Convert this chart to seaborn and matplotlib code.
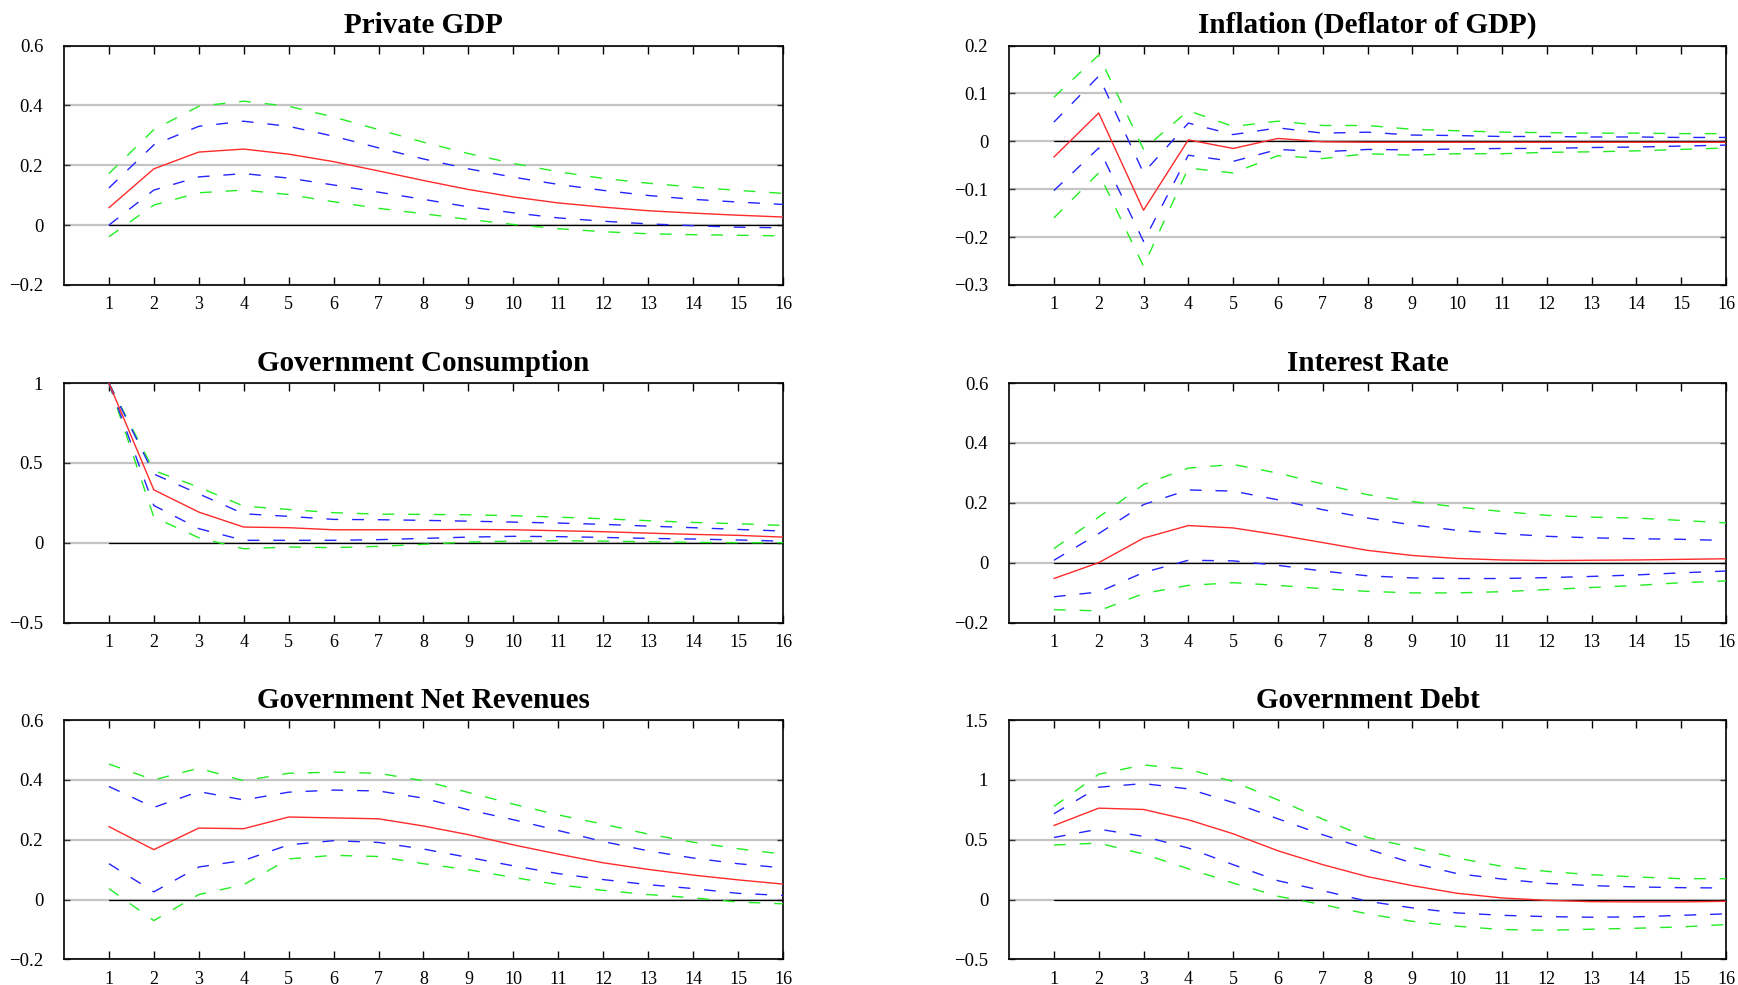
import matplotlib
matplotlib.use("Agg")
import matplotlib.pyplot as plt
from matplotlib.ticker import FuncFormatter
import numpy as np
import pandas as pd
import seaborn as sns

# Impulse responses to a government consumption shock: median (red),
# inner bands (blue) and outer bands (green) over 16 quarters.
horizons = list(range(1, 17))

gdp_median = [0.058, 0.188, 0.244, 0.254, 0.237, 0.212, 0.181, 0.149, 0.119, 0.094, 0.074, 0.060, 0.048, 0.040, 0.033, 0.027]
gdp_inner_hi = [0.124, 0.268, 0.330, 0.347, 0.330, 0.297, 0.258, 0.221, 0.188, 0.160, 0.136, 0.116, 0.099, 0.086, 0.077, 0.069]
gdp_inner_lo = [0.000, 0.117, 0.161, 0.172, 0.157, 0.134, 0.110, 0.086, 0.061, 0.041, 0.024, 0.013, 0.004, -0.002, -0.007, -0.009]
gdp_outer_hi = [0.172, 0.319, 0.397, 0.414, 0.397, 0.361, 0.319, 0.277, 0.239, 0.206, 0.178, 0.156, 0.140, 0.127, 0.116, 0.106]
gdp_outer_lo = [-0.039, 0.067, 0.108, 0.117, 0.102, 0.078, 0.056, 0.038, 0.019, 0.002, -0.012, -0.022, -0.029, -0.032, -0.034, -0.036]

infl_median = [-0.033, 0.059, -0.144, 0.003, -0.015, 0.006, -0.001, -0.002, -0.002, -0.002, -0.002, -0.002, -0.002, -0.002, -0.002, -0.002]
infl_inner_hi = [0.040, 0.136, -0.066, 0.038, 0.014, 0.028, 0.017, 0.019, 0.013, 0.012, 0.010, 0.010, 0.009, 0.009, 0.008, 0.008]
infl_inner_lo = [-0.103, -0.014, -0.209, -0.029, -0.042, -0.017, -0.022, -0.017, -0.018, -0.016, -0.015, -0.015, -0.013, -0.012, -0.010, -0.008]
infl_outer_hi = [0.092, 0.180, -0.017, 0.064, 0.031, 0.042, 0.033, 0.033, 0.025, 0.022, 0.019, 0.018, 0.017, 0.017, 0.016, 0.016]
infl_outer_lo = [-0.160, -0.066, -0.261, -0.056, -0.066, -0.030, -0.036, -0.026, -0.029, -0.026, -0.026, -0.023, -0.022, -0.020, -0.017, -0.014]

gcons_median = [1.000, 0.331, 0.192, 0.098, 0.094, 0.081, 0.081, 0.081, 0.083, 0.081, 0.075, 0.069, 0.060, 0.052, 0.046, 0.035]
gcons_inner_hi = [1.000, 0.430, 0.306, 0.181, 0.165, 0.146, 0.144, 0.140, 0.135, 0.129, 0.123, 0.115, 0.104, 0.094, 0.083, 0.073]
gcons_inner_lo = [1.000, 0.233, 0.088, 0.015, 0.015, 0.015, 0.019, 0.027, 0.035, 0.040, 0.038, 0.033, 0.027, 0.023, 0.017, 0.010]
gcons_outer_hi = [1.000, 0.452, 0.348, 0.229, 0.208, 0.188, 0.179, 0.177, 0.175, 0.169, 0.160, 0.150, 0.138, 0.127, 0.119, 0.108]
gcons_outer_lo = [1.000, 0.160, 0.031, -0.038, -0.027, -0.031, -0.023, -0.010, 0.004, 0.010, 0.013, 0.010, 0.006, 0.002, 0.000, 0.000]

rate_median = [-0.053, 0.000, 0.082, 0.124, 0.116, 0.093, 0.067, 0.041, 0.024, 0.014, 0.009, 0.007, 0.008, 0.009, 0.011, 0.013]
rate_inner_hi = [0.008, 0.097, 0.194, 0.243, 0.239, 0.210, 0.177, 0.149, 0.126, 0.108, 0.097, 0.088, 0.083, 0.080, 0.078, 0.074]
rate_inner_lo = [-0.114, -0.098, -0.033, 0.008, 0.006, -0.009, -0.028, -0.044, -0.051, -0.053, -0.053, -0.050, -0.046, -0.041, -0.034, -0.028]
rate_outer_hi = [0.047, 0.152, 0.261, 0.316, 0.328, 0.299, 0.263, 0.227, 0.204, 0.186, 0.171, 0.158, 0.152, 0.149, 0.141, 0.133]
rate_outer_lo = [-0.157, -0.161, -0.103, -0.076, -0.067, -0.076, -0.087, -0.096, -0.101, -0.101, -0.097, -0.090, -0.083, -0.076, -0.067, -0.061]

rev_median = [0.244, 0.167, 0.239, 0.237, 0.276, 0.273, 0.270, 0.246, 0.217, 0.183, 0.152, 0.123, 0.101, 0.082, 0.066, 0.052]
rev_inner_hi = [0.378, 0.308, 0.361, 0.333, 0.359, 0.366, 0.363, 0.339, 0.300, 0.267, 0.231, 0.194, 0.163, 0.139, 0.120, 0.106]
rev_inner_lo = [0.120, 0.026, 0.109, 0.131, 0.183, 0.197, 0.191, 0.169, 0.141, 0.113, 0.087, 0.067, 0.050, 0.037, 0.021, 0.014]
rev_outer_hi = [0.453, 0.400, 0.439, 0.397, 0.422, 0.426, 0.422, 0.397, 0.358, 0.319, 0.283, 0.252, 0.219, 0.192, 0.170, 0.152]
rev_outer_lo = [0.037, -0.070, 0.017, 0.050, 0.136, 0.148, 0.144, 0.120, 0.100, 0.074, 0.050, 0.031, 0.017, 0.006, -0.008, -0.014]

debt_median = [0.619, 0.764, 0.753, 0.667, 0.550, 0.408, 0.292, 0.192, 0.117, 0.053, 0.014, -0.006, -0.017, -0.019, -0.019, -0.014]
debt_inner_hi = [0.717, 0.939, 0.969, 0.925, 0.811, 0.675, 0.542, 0.422, 0.306, 0.217, 0.172, 0.136, 0.117, 0.106, 0.100, 0.097]
debt_inner_lo = [0.519, 0.589, 0.528, 0.431, 0.292, 0.158, 0.075, -0.014, -0.069, -0.111, -0.131, -0.142, -0.147, -0.144, -0.131, -0.119]
debt_outer_hi = [0.778, 1.047, 1.125, 1.089, 0.986, 0.833, 0.672, 0.519, 0.436, 0.347, 0.278, 0.236, 0.208, 0.189, 0.175, 0.175]
debt_outer_lo = [0.456, 0.472, 0.381, 0.258, 0.139, 0.028, -0.042, -0.119, -0.181, -0.222, -0.250, -0.256, -0.247, -0.239, -0.228, -0.208]

titles = ["Private GDP", "Inflation (Deflator of GDP)", "Government Consumption",
          "Interest Rate", "Government Net Revenues", "Government Debt"]
yticks = [
    [-0.2, 0, 0.2, 0.4, 0.6],
    [-0.3, -0.2, -0.1, 0, 0.1, 0.2],
    [-0.5, 0, 0.5, 1],
    [-0.2, 0, 0.2, 0.4, 0.6],
    [-0.2, 0, 0.2, 0.4, 0.6],
    [-0.5, 0, 0.5, 1, 1.5],
]

series = [
    (gdp_median, gdp_inner_hi, gdp_inner_lo, gdp_outer_hi, gdp_outer_lo),
    (infl_median, infl_inner_hi, infl_inner_lo, infl_outer_hi, infl_outer_lo),
    (gcons_median, gcons_inner_hi, gcons_inner_lo, gcons_outer_hi, gcons_outer_lo),
    (rate_median, rate_inner_hi, rate_inner_lo, rate_outer_hi, rate_outer_lo),
    (rev_median, rev_inner_hi, rev_inner_lo, rev_outer_hi, rev_outer_lo),
    (debt_median, debt_inner_hi, debt_inner_lo, debt_outer_hi, debt_outer_lo),
]

sns.set_style("white")
plt.rcParams["font.family"] = ["Liberation Serif", "DejaVu Serif"]
plt.rcParams["axes.unicode_minus"] = True
plt.rcParams["text.color"] = "black"
plt.rcParams["axes.labelcolor"] = "black"
plt.rcParams["xtick.color"] = "black"
plt.rcParams["ytick.color"] = "black"

RED = "#ff2a2a"
BLUE = "#2424ff"
GREEN = "#22ee22"
DASH = (0, (8.5, 10))

fig = plt.figure(figsize=(17.38, 9.85), dpi=100)

col_left = [0.0368, 0.5806]
col_width = [0.4137, 0.4125]
row_bottom = [0.7107, 0.3680, 0.0259]
row_height = 0.2431


def fmt(v, _pos):
    s = "%g" % v
    return s.replace("-", "\u2212")


for i, (title, ticks, data) in enumerate(zip(titles, yticks, series)):
    r, c = divmod(i, 2)
    ax = fig.add_axes([col_left[c], row_bottom[r], col_width[c], row_height])
    median, inner_hi, inner_lo, outer_hi, outer_lo = data

    df = pd.DataFrame({
        "h": horizons,
        "median": median,
        "inner_hi": inner_hi,
        "inner_lo": inner_lo,
        "outer_hi": outer_hi,
        "outer_lo": outer_lo,
    })

    # horizontal reference at zero across the response horizon
    ax.plot([horizons[0], horizons[-1]], [0, 0], color="black", lw=0.9, zorder=2)

    for col, colour in [("outer_hi", GREEN), ("outer_lo", GREEN),
                        ("inner_hi", BLUE), ("inner_lo", BLUE)]:
        sns.lineplot(data=df, x="h", y=col, ax=ax, color=colour, lw=1.0,
                     linestyle=DASH, zorder=3)
    sns.lineplot(data=df, x="h", y="median", ax=ax, color=RED, lw=1.0, zorder=4)

    ax.set_xlim(0, 16)
    ax.set_ylim(ticks[0], ticks[-1])
    ax.set_xticks(horizons)
    ax.set_yticks(ticks)
    ax.yaxis.set_major_formatter(FuncFormatter(fmt))
    ax.set_xlabel("")
    ax.set_ylabel("")

    ax.grid(axis="y", color="#c4c4c4", lw=1.6, zorder=0)
    ax.grid(axis="x", visible=False)
    ax.set_axisbelow(True)

    ax.tick_params(axis="x", direction="in", length=6, width=1.0, top=True,
                   bottom=True, labelsize=13, pad=8, color="black",
                   labelcolor="black")
    ax.tick_params(axis="y", direction="in", length=4, width=1.0, left=True,
                   right=True, labelsize=13.5, pad=15, color="#333333",
                   labelcolor="black")

    for sp in ax.spines.values():
        sp.set_visible(True)
        sp.set_color("black")
        sp.set_linewidth(1.2)

    ax.set_title(title, fontsize=21, fontweight="bold", pad=9, color="black")

fig.savefig("out.png", dpi=100, facecolor="white")
